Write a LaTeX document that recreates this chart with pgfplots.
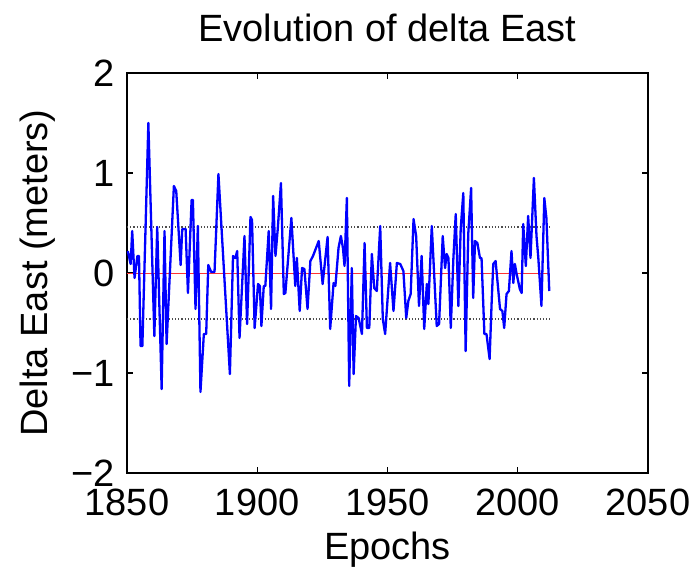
\documentclass[border=0pt]{standalone}
\usepackage{fontspec}
\setmainfont{Liberation Sans}
\usepackage{pgfplots}
\pgfplotsset{compat=1.18}
\pgfplotstableread{
year val
1850.3 0.22
1851.4 0.09
1852.0 0.42
1852.9 -0.05
1854.0 0.17
1854.6 0.17
1855.2 -0.73
1855.9 -0.73
1858.2 1.50
1860.5 -0.63
1861.6 0.46
1863.3 -1.16
1864.4 0.42
1865.2 -0.71
1868.0 0.87
1868.9 0.82
1870.6 0.08
1871.2 0.44
1872.5 0.44
1873.4 -0.20
1874.8 0.73
1875.3 0.73
1876.3 -0.36
1877.2 0.47
1878.2 -1.19
1879.5 -0.61
1880.4 -0.61
1881.2 0.08
1882.3 0.01
1883.6 0.01
1885.1 0.99
1889.5 -1.01
1890.7 0.17
1891.6 0.15
1892.3 0.22
1893.2 -0.65
1895.1 0.37
1896.1 -0.51
1897.4 0.56
1898.0 0.53
1899.0 -0.55
1900.3 -0.11
1901.0 -0.13
1901.6 -0.53
1902.5 -0.13
1903.1 -0.13
1904.4 0.42
1905.3 -0.36
1906.1 0.77
1907.0 0.17
1907.9 0.45
1909.1 0.90
1910.2 -0.21
1910.8 -0.20
1913.1 0.55
1914.6 -0.13
1915.2 0.15
1916.3 -0.38
1917.2 0.05
1918.1 0.04
1919.3 -0.36
1920.4 0.12
1921.4 0.17
1923.6 0.32
1925.1 -0.11
1927.0 0.36
1928.0 -0.56
1929.3 -0.10
1930.0 -0.13
1931.2 0.25
1932.1 0.37
1932.9 0.25
1933.5 0.07
1934.4 0.75
1935.3 -1.13
1936.3 0.05
1937.0 -1.01
1937.9 -0.43
1938.9 -0.45
1940.2 -0.61
1941.2 0.30
1942.1 -0.55
1943.0 -0.55
1944.0 0.19
1944.9 -0.15
1945.9 -0.18
1947.2 0.47
1948.2 -0.46
1949.1 -0.61
1951.0 0.10
1952.3 -0.38
1953.6 0.10
1954.9 0.09
1956.1 0.02
1957.2 -0.45
1958.0 -0.28
1958.9 -0.21
1960.0 0.54
1961.0 0.37
1962.1 -0.33
1963.1 0.17
1964.1 -0.56
1965.1 -0.11
1965.7 -0.31
1967.0 0.47
1968.9 -0.53
1969.8 -0.51
1971.2 0.37
1972.1 0.05
1972.7 0.19
1973.4 0.15
1974.3 -0.55
1975.3 0.15
1976.2 0.59
1977.2 -0.33
1978.1 0.44
1979.1 0.80
1980.0 -0.78
1981.0 0.39
1982.1 0.85
1982.9 -0.25
1983.6 0.32
1984.5 0.30
1985.5 0.15
1986.1 0.15
1987.2 -0.61
1988.0 -0.61
1989.2 -0.86
1990.0 -0.28
1990.6 0.09
1991.5 0.12
1993.2 -0.36
1994.1 -0.38
1994.8 -0.55
1995.7 -0.21
1996.6 -0.18
1997.6 0.22
1998.3 -0.10
1998.9 0.09
1999.5 0.00
2000.8 -0.16
2001.5 -0.20
2002.1 0.49
2003.1 0.07
2004.0 0.57
2004.9 0.15
2006.2 0.95
2007.2 0.37
2007.9 0.15
2009.1 -0.33
2010.2 0.75
2011.0 0.55
2012.1 -0.18
}\eastdata
\begin{document}
\fontsize{19}{22}\selectfont
\begin{tikzpicture}
\begin{axis}[
  scale only axis, width=260.5pt, height=200pt,
  xmin=1850, xmax=2050, ymin=-2, ymax=2,
  xtick={1850,1900,1950,2000,2050},
  xticklabels={1850,1900,1950,2000,2050},
  ytick={-2,-1,0,1,2},
  yticklabels={−2,−1,0,1,2},
  tick align=inside, major tick length=3pt,
  tick style={black, line width=0.6pt},
  axis line style={black, line width=0.9pt},
  ticklabel style={font=\fontsize{19}{22}\selectfont, inner sep=0pt},
  xticklabel style={anchor=base, yshift=-21pt},
  yticklabel style={anchor=east, xshift=-6pt},
  every axis title shift=0pt,
  title={Evolution of delta East},
  title style={at={(axis description cs:0.5,1.08)}, anchor=base, inner sep=0pt, font=\fontsize{19}{22}\selectfont},
  xlabel={Epochs},
  xlabel style={at={(axis description cs:0.5,-0.215)}, anchor=base, inner sep=0pt, font=\fontsize{19}{22}\selectfont},
  ylabel={Delta East (meters)},
  ylabel style={at={(axis description cs:-0.1535,0.5)}, anchor=base, inner sep=0pt, font=\fontsize{19}{22}\selectfont},
]
\addplot[red!80, line width=0.4pt] coordinates {(1850,0) (2012.3,0)};
\addplot[black!70, densely dotted, line width=0.6pt] coordinates {(1850,0.46) (2012.3,0.46)};
\addplot[black!70, densely dotted, line width=0.6pt] coordinates {(1850,-0.46) (2012.3,-0.46)};
\addplot[blue, line width=1.15pt, line join=round] table[x=year, y=val] {\eastdata};
\end{axis}
\pgfresetboundingbox
\path ([shift={(-63.5pt,-51pt)}]current axis.south west) rectangle ([shift={(22pt,36.5pt)}]current axis.north east);
\end{tikzpicture}
\end{document}
